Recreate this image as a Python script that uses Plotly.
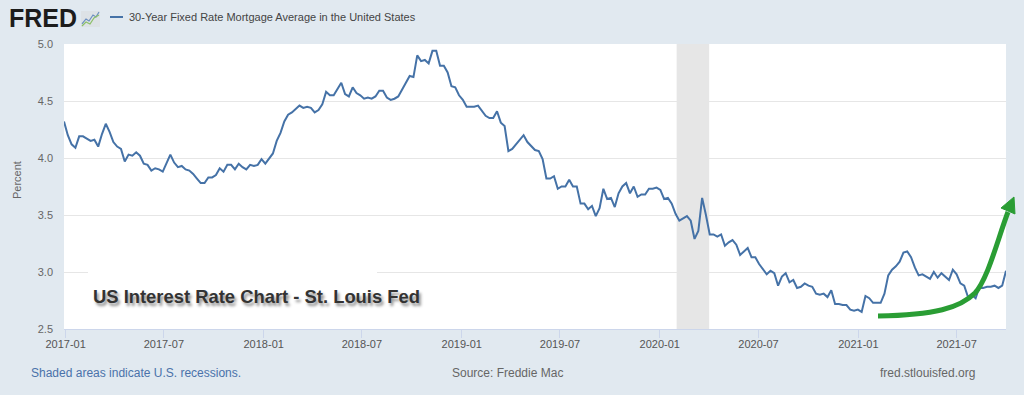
import pandas as pd
import plotly.graph_objects as go

# ---- data: Freddie Mac 30-year fixed rate mortgage average (weekly, %) ----
start_date = "2016-12-29"
rate_2016 = [4.32]
rate_2017 = [4.20, 4.12, 4.09, 4.19,
             4.19, 4.17, 4.15, 4.16,
             4.10, 4.21, 4.30, 4.23, 4.14,
             4.10, 4.08, 3.97, 4.03,
             4.02, 4.05, 4.02, 3.95,
             3.94, 3.89, 3.91, 3.90, 3.88,
             3.96, 4.03, 3.96, 3.92,
             3.93, 3.90, 3.89, 3.86, 3.82,
             3.78, 3.78, 3.83, 3.83,
             3.85, 3.91, 3.88, 3.94,
             3.94, 3.90, 3.95, 3.92, 3.90,
             3.94, 3.93, 3.94, 3.99]
rate_2018 = [3.95, 3.99, 4.04, 4.15,
             4.22, 4.32, 4.38, 4.40,
             4.43, 4.46, 4.44, 4.45, 4.44,
             4.40, 4.42, 4.47, 4.58,
             4.55, 4.55, 4.61, 4.66, 4.56,
             4.54, 4.62, 4.57, 4.55,
             4.52, 4.53, 4.52, 4.54,
             4.59, 4.59, 4.53, 4.51, 4.52,
             4.54, 4.60, 4.65, 4.72,
             4.71, 4.90, 4.85, 4.86,
             4.83, 4.94, 4.94, 4.81, 4.81,
             4.75, 4.63, 4.62, 4.55]
rate_2019 = [4.51, 4.45, 4.45, 4.45, 4.46,
             4.41, 4.37, 4.35, 4.35,
             4.41, 4.31, 4.28, 4.06,
             4.08, 4.12, 4.17, 4.20,
             4.14, 4.10, 4.07, 4.06, 3.99,
             3.82, 3.82, 3.84, 3.73,
             3.75, 3.75, 3.81, 3.75,
             3.75, 3.60, 3.60, 3.55, 3.58,
             3.49, 3.56, 3.73, 3.64,
             3.65, 3.57, 3.69, 3.75, 3.78,
             3.69, 3.75, 3.66, 3.68,
             3.68, 3.73, 3.73, 3.74]
rate_2020 = [3.72, 3.64, 3.65, 3.60, 3.51,
             3.45, 3.47, 3.49, 3.45,
             3.29, 3.36, 3.65, 3.50,
             3.33, 3.33, 3.31, 3.33, 3.23,
             3.26, 3.28, 3.24, 3.15,
             3.18, 3.21, 3.13, 3.13,
             3.07, 3.03, 2.98, 3.01, 2.99,
             2.88, 2.96, 2.99, 2.91,
             2.93, 2.86, 2.87, 2.90,
             2.88, 2.87, 2.81, 2.80, 2.81,
             2.78, 2.84, 2.72, 2.72,
             2.71, 2.71, 2.67, 2.66, 2.67]
rate_2021 = [2.65, 2.79, 2.77, 2.73,
             2.73, 2.73, 2.81, 2.97,
             3.02, 3.05, 3.09, 3.17,
             3.18, 3.13, 3.04, 2.97, 2.98,
             2.96, 2.94, 3.00, 2.95,
             2.99, 2.96, 2.93, 3.02,
             2.98, 2.90, 2.88, 2.78, 2.80,
             2.77, 2.87, 2.86, 2.87,
             2.87, 2.88, 2.86, 2.88, 3.01]

rates = rate_2016 + rate_2017 + rate_2018 + rate_2019 + rate_2020 + rate_2021
dates = pd.date_range(start_date, periods=len(rates), freq="7D")

recession_start = "2020-02-01"
recession_end = "2020-04-01"

series_name = "30-Year Fixed Rate Mortgage Average in the United States"
y_ticks = [2.5, 3.0, 3.5, 4.0, 4.5, 5.0]

# ---- layout geometry (pixels) ----
W, H = 1024, 395
L, R, T, B = 64, 18, 44, 66
PW, PH = W - L - R, H - T - B


def px(x):
    return (x - L) / PW


def py(y):
    return (H - B - y) / PH


BG = "#e1e9f0"
LINE = "#4572a7"
GREEN = "#2a9d34"
FONT = "Arial, Liberation Sans, sans-serif"

fig = go.Figure()
fig.add_trace(go.Scatter(x=dates, y=rates, mode="lines",
                         line=dict(color=LINE, width=2),
                         name=series_name, hoverinfo="x+y"))

shapes = []
# recession shading
shapes.append(dict(type="rect", xref="x", yref="paper",
                   x0=recession_start, x1=recession_end, y0=0, y1=1,
                   fillcolor="#e6e6e6", line=dict(width=0), layer="between"))
# white box behind overlay title
shapes.append(dict(type="rect", xref="paper", yref="paper",
                   x0=px(88), x1=px(377), y0=py(324), y1=py(271),
                   fillcolor="white", line=dict(width=0), layer="above"))


def P(x, y):
    return f"{px(x):.5f},{py(y):.5f}"


# green arrow (curved shaft + head)
shaft = (f"M {P(878,316)} C {P(935,315)} {P(960,308)} {P(975,293)} "
         f"C {P(988,279)} {P(998,238)} {P(1008,212)}")
shapes.append(dict(type="path", xref="paper", yref="paper", path=shaft,
                   line=dict(color=GREEN, width=5), layer="above"))
head = f"M {P(1014,197)} L {P(1001,208)} L {P(1015,214)} Z"
shapes.append(dict(type="path", xref="paper", yref="paper", path=head,
                   fillcolor=GREEN, line=dict(color=GREEN, width=1), layer="above"))

# legend line in header
shapes.append(dict(type="line", xref="paper", yref="paper",
                   x0=px(110), x1=px(123), y0=py(17), y1=py(17),
                   line=dict(color=LINE, width=2)))
# FRED icon
shapes.append(dict(type="rect", xref="paper", yref="paper",
                   x0=px(81), x1=px(100), y0=py(27), y1=py(11),
                   fillcolor="#dde2e6", line=dict(width=0)))
shapes.append(dict(type="path", xref="paper", yref="paper",
                   path=f"M {P(82,24)} L {P(86,19)} L {P(89,21)} L {P(93,15)} L {P(96,17)} L {P(99,12)}",
                   line=dict(color="#6b8fc0", width=1.2)))
shapes.append(dict(type="path", xref="paper", yref="paper",
                   path=f"M {P(82,26)} L {P(86,22)} L {P(90,24)} L {P(94,18)} L {P(99,15)}",
                   line=dict(color="#8cc068", width=1.2)))

annotations = []
# overlay title with shadow
annotations.append(dict(xref="paper", yref="paper", x=px(91), y=py(296),
                        xanchor="left", yanchor="middle", showarrow=False,
                        text="<b>US Interest Rate Chart - St. Louis Fed</b>",
                        font=dict(family=FONT, size=18.4, color="#333333",
                                  shadow="2px 3px 3px rgba(0,0,0,0.45)")))
# FRED logo
annotations.append(dict(xref="paper", yref="paper", x=px(7), y=py(18),
                        xanchor="left", yanchor="middle", showarrow=False,
                        text="<b>FRED</b>",
                        font=dict(family=FONT, size=25, color="#1c1c1c")))
annotations.append(dict(xref="paper", yref="paper", x=px(127), y=py(17),
                        xanchor="left", yanchor="middle", showarrow=False,
                        text=series_name,
                        font=dict(family=FONT, size=11, color="#444444")))
# y title
annotations.append(dict(xref="paper", yref="paper", x=px(17), y=py(180),
                        xanchor="center", yanchor="middle", showarrow=False,
                        text="Percent", textangle=-90,
                        font=dict(family=FONT, size=11, color="#666666")))
# footer
annotations.append(dict(xref="paper", yref="paper", x=px(29), y=py(373),
                        xanchor="left", yanchor="middle", showarrow=False,
                        text="Shaded areas indicate U.S. recessions.",
                        font=dict(family=FONT, size=12, color="#4a72aa")))
annotations.append(dict(xref="paper", yref="paper", x=px(507), y=py(373),
                        xanchor="center", yanchor="middle", showarrow=False,
                        text="Source: Freddie Mac",
                        font=dict(family=FONT, size=12, color="#666666")))
annotations.append(dict(xref="paper", yref="paper", x=px(977), y=py(373),
                        xanchor="right", yanchor="middle", showarrow=False,
                        text="fred.stlouisfed.org",
                        font=dict(family=FONT, size=12, color="#666666")))

fig.update_layout(
    width=W, height=H,
    margin=dict(l=L, r=R, t=T, b=B, pad=0),
    paper_bgcolor=BG, plot_bgcolor="white",
    showlegend=False,
    font=dict(family=FONT),
    shapes=shapes, annotations=annotations,
    xaxis=dict(range=[dates[0], dates[-1]], type="date",
               tick0="2017-01-01", dtick="M6", tickformat="%Y-%m",
               showgrid=False, zeroline=False,
               showline=True, linecolor="#ccd6eb", linewidth=1,
               ticks="outside", ticklen=8, tickcolor="#ccd6eb", tickwidth=1,
               ticklabelstandoff=-3,
               tickfont=dict(family=FONT, size=11, color="#555555")),
    yaxis=dict(range=[2.5, 5.0], tickvals=y_ticks, tickformat=".1f",
               showgrid=True, gridcolor="#e6e6e6", gridwidth=1,
               zeroline=False, showline=False, ticks="",
               ticklabelstandoff=10,
               tickfont=dict(family=FONT, size=11, color="#666666")),
)

fig.write_html("out.html",
               config={"displayModeBar": False},
               post_script="document.body.style.margin='0';document.body.style.overflow='hidden';")
